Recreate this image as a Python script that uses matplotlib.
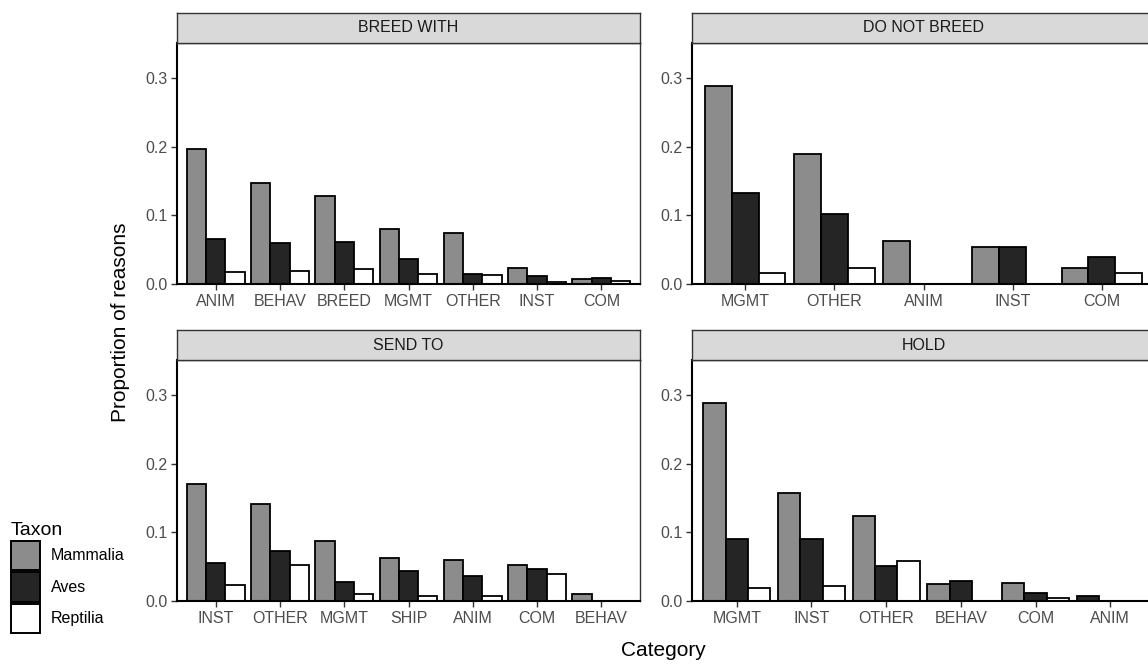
import numpy as np
import matplotlib
matplotlib.use("Agg")
import matplotlib.pyplot as plt
from matplotlib.patches import Patch

plt.rcParams["font.family"] = ["Liberation Sans", "DejaVu Sans"]

# --- data (proportion of reasons), 0 = no bar ---
breed_cats = ["ANIM", "BEHAV", "BREED", "MGMT", "OTHER", "INST", "COM"]
breed_mam = [0.197, 0.147, 0.128, 0.080, 0.075, 0.024, 0.007]
breed_ave = [0.066, 0.060, 0.061, 0.036, 0.015, 0.011, 0.009]
breed_rep = [0.017, 0.019, 0.022, 0.015, 0.013, 0.003, 0.004]

nobreed_cats = ["MGMT", "OTHER", "ANIM", "INST", "COM"]
nobreed_mam = [0.289, 0.189, 0.063, 0.054, 0.024]
nobreed_ave = [0.133, 0.102, 0.0, 0.054, 0.039]
nobreed_rep = [0.016, 0.024, 0.0, 0.0, 0.016]

send_cats = ["INST", "OTHER", "MGMT", "SHIP", "ANIM", "COM", "BEHAV"]
send_mam = [0.171, 0.142, 0.088, 0.063, 0.060, 0.053, 0.010]
send_ave = [0.056, 0.073, 0.027, 0.043, 0.036, 0.046, 0.0]
send_rep = [0.023, 0.053, 0.010, 0.007, 0.007, 0.040, 0.0]

hold_cats = ["MGMT", "INST", "OTHER", "BEHAV", "COM", "ANIM"]
hold_mam = [0.288, 0.157, 0.124, 0.025, 0.026, 0.0]
hold_ave = [0.091, 0.091, 0.051, 0.029, 0.012, 0.008]
hold_rep = [0.019, 0.022, 0.058, 0.0, 0.005, 0.0]

taxa = ["Mammalia", "Aves", "Reptilia"]
colors = ["#8c8c8c", "#252525", "#ffffff"]

W, H = 1148, 665
fig = plt.figure(figsize=(W / 100, H / 100), dpi=100)


def px_axes(x0, y0, x1, y1):
    return fig.add_axes([x0 / W, 1 - y1 / H, (x1 - x0) / W, (y1 - y0) / H])


def draw_panel(x0, y_top, title, cats, mam, ave, rep):
    panel_w = 463
    ax = px_axes(x0, y_top + 30, x0 + panel_w, y_top + 271)
    x = np.arange(1, len(cats) + 1)
    w = 0.3
    for i in range(len(cats)):
        # bars that exist are packed from the left of the group (ggplot dodge)
        slot = 0
        for v, c in zip([mam[i], ave[i], rep[i]], colors):
            if v > 0:
                ax.bar(x[i] - 0.45 + w * (slot + 0.5), v, w, color=c,
                       edgecolor="black", linewidth=1.3, zorder=2)
                slot += 1
    ax.set_xlim(0.4, len(cats) + 0.6)
    ax.set_ylim(0, 0.351)
    ax.set_xticks(x)
    ax.set_xticklabels(cats)
    ax.set_yticks([0, 0.1, 0.2, 0.3])
    ax.set_yticklabels(["0.0", "0.1", "0.2", "0.3"])
    ax.tick_params(length=4, width=1, color="#333333", labelcolor="#4d4d4d",
                   labelsize=11.5, pad=3)
    for side in ["top", "right"]:
        ax.spines[side].set_color("#333333")
        ax.spines[side].set_linewidth(1.0)
    for side in ["left", "bottom"]:
        ax.spines[side].set_color("black")
        ax.spines[side].set_linewidth(1.5)

    sx = px_axes(x0, y_top, x0 + panel_w, y_top + 30)
    sx.set_xticks([])
    sx.set_yticks([])
    sx.set_facecolor("#d9d9d9")
    for s in sx.spines.values():
        s.set_color("#333333")
        s.set_linewidth(1.0)
    sx.text(0.5, 0.5, title, ha="center", va="center", fontsize=11.5,
            color="#1a1a1a", transform=sx.transAxes)
    return ax


draw_panel(177, 13, "BREED WITH", breed_cats, breed_mam, breed_ave, breed_rep)
draw_panel(692, 13, "DO NOT BREED", nobreed_cats, nobreed_mam, nobreed_ave, nobreed_rep)
draw_panel(177, 330, "SEND TO", send_cats, send_mam, send_ave, send_rep)
draw_panel(692, 330, "HOLD", hold_cats, hold_mam, hold_ave, hold_rep)

fig.text(121 / W, 1 - 322 / H, "Proportion of reasons", rotation=90,
         ha="center", va="center", fontsize=15, color="black")
fig.text(663 / W, 1 - 651 / H, "Category", ha="center", va="center",
         fontsize=15, color="black")

handles = [Patch(facecolor=c, edgecolor="black", linewidth=1.4) for c in colors]
leg = fig.legend(handles, taxa, title="Taxon", loc="upper left",
                 bbox_to_anchor=(11 / W, 1 - 522 / H), frameon=False,
                 fontsize=11.5, title_fontsize=14, handlelength=1.8,
                 handleheight=2.5, labelspacing=0.1, handletextpad=0.7,
                 borderpad=0, borderaxespad=0, alignment="left")

fig.savefig("out.png", dpi=100, facecolor="white")
